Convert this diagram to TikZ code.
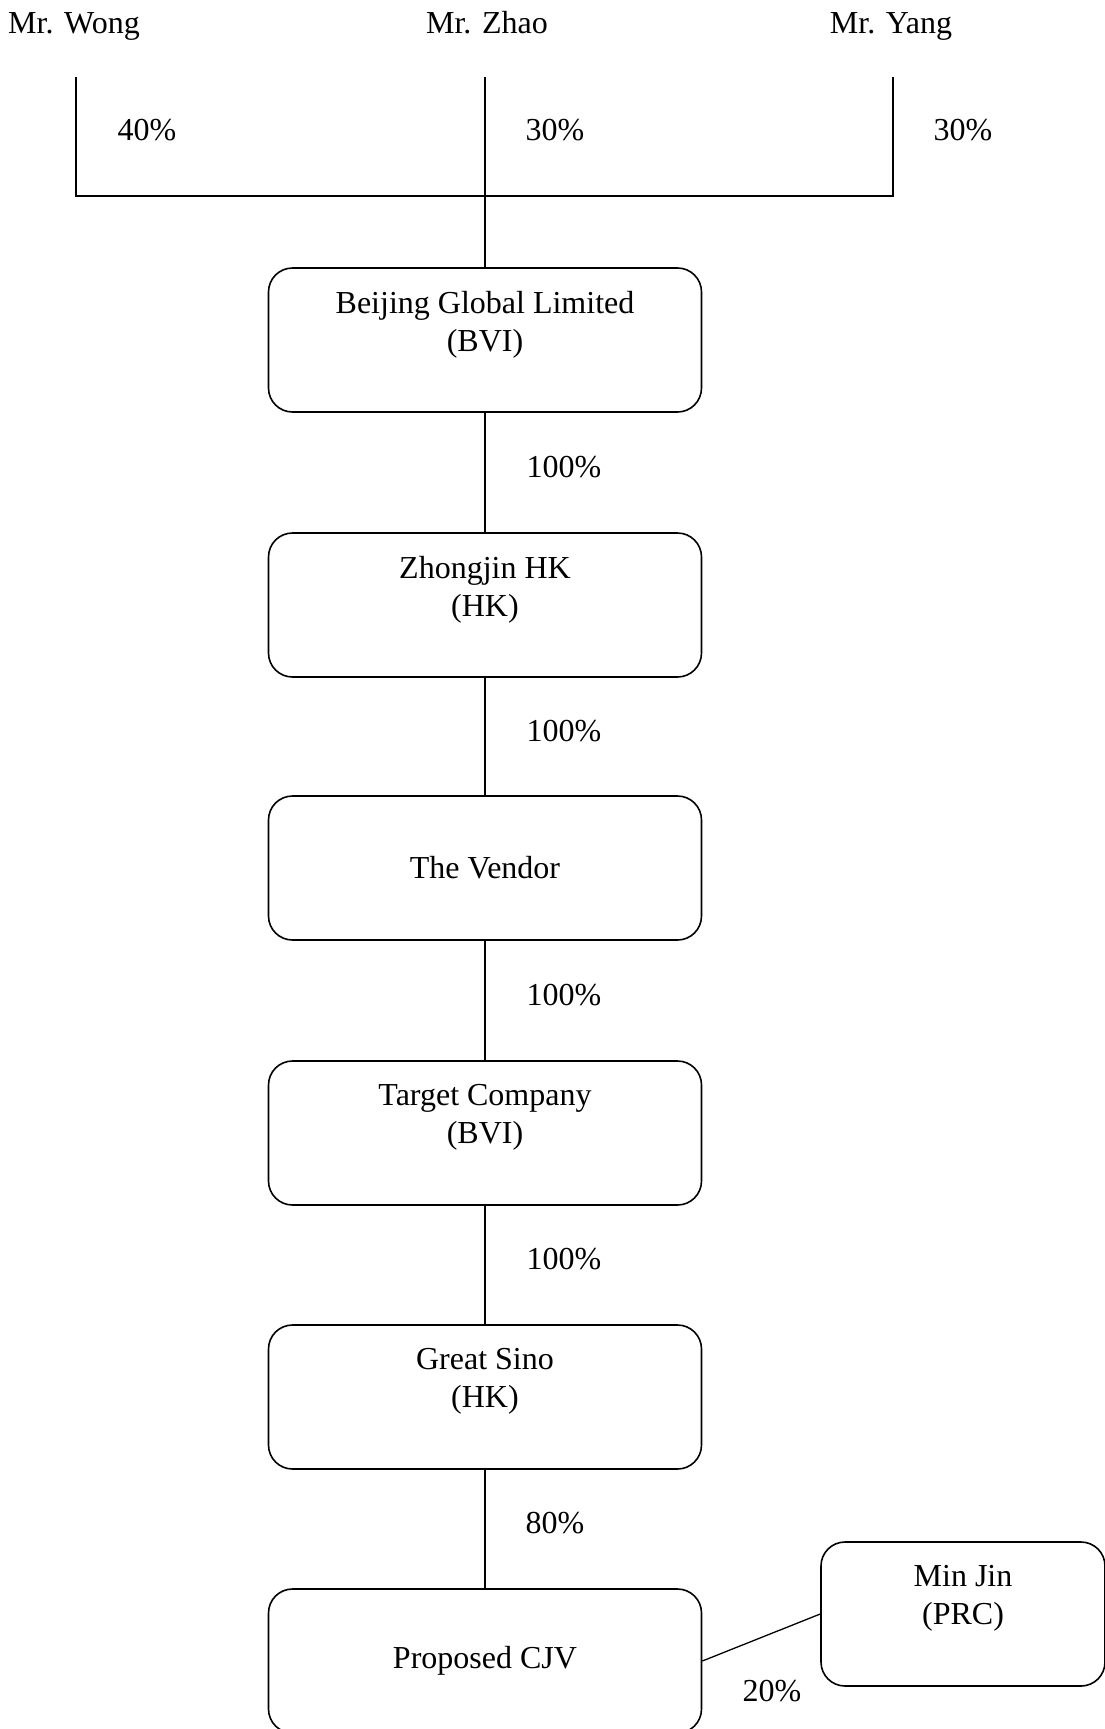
\documentclass[tikz,border=0pt]{standalone}
\usepackage{fontspec}
\setmainfont{Liberation Serif}
\usetikzlibrary{positioning}

\begin{document}
\begin{tikzpicture}[x=1pt,y=1pt]
\tikzset{entity/.style={draw=black,line width=1.6pt,rounded corners=24pt,minimum width=433pt,minimum height=144pt,align=center,inner sep=0pt,font=\fontsize{32}{38}\selectfont},
  txt/.style={inner sep=0pt,font=\fontsize{32}{38}\selectfont},
  link/.style={draw=black,line width=1.3pt}}
\useasboundingbox (0,0) rectangle (1104,-1729);
% shareholders
\node[txt,anchor=base] (wong) at (74,-33) {Mr. Wong};
\node[txt,anchor=base] (zhao) at (487,-33) {Mr. Zhao};
\node[txt,anchor=base] (yang) at (891,-33) {Mr. Yang};
\coordinate (wongtop) at (76,-77);
\coordinate (zhaotop) at (485,-77);
\coordinate (yangtop) at (893,-77);
\coordinate (joint) at (485,-196);
\draw[link] (wongtop) |- (joint) -| (yangtop);
\node[txt] (pwong) at (147,-130) {40\%};
\node[txt] (pzhao) at (555,-130) {30\%};
\node[txt] (pyang) at (963,-130) {30\%};
% chain of companies
\node[entity] (bgl) at (485,-340) {Beijing Global Limited\\(BVI)\\\mbox{}};
\node[entity] (zjhk) at (485,-605) {Zhongjin HK\\(HK)\\\mbox{}};
\node[entity] (vendor) at (485,-868) {The Vendor};
\node[entity] (target) at (485,-1133) {Target Company\\(BVI)\\\mbox{}};
\node[entity] (sino) at (485,-1397) {Great Sino\\(HK)\\\mbox{}};
\node[entity] (cjv) at (485,-1661) {Proposed CJV};
\node[entity,minimum width=284pt] (minjin) at (963,-1614) {Min Jin\\(PRC)\\\mbox{}};
\draw[link] (zhaotop) -- (bgl);
\draw[link] (bgl) -- (zjhk);
\draw[link] (zjhk) -- (vendor);
\draw[link] (vendor) -- (target);
\draw[link] (target) -- (sino);
\draw[link] (sino) -- (cjv);
\draw[link] (cjv.east) -- (minjin.west);
\node[txt] (p1) at (564,-467) {100\%};
\node[txt] (p2) at (564,-731) {100\%};
\node[txt] (p3) at (564,-995) {100\%};
\node[txt] (p4) at (564,-1259) {100\%};
\node[txt] (p5) at (555,-1523) {80\%};
\node[txt] (p6) at (772,-1691) {20\%};
\end{tikzpicture}
\end{document}
